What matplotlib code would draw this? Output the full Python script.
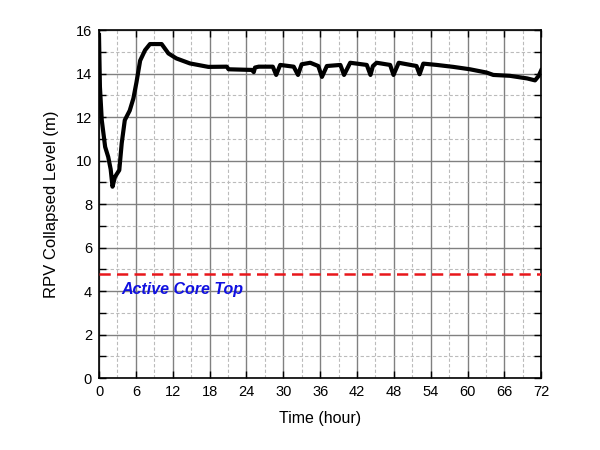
import matplotlib
matplotlib.use("Agg")
import matplotlib.pyplot as plt
from matplotlib.ticker import MultipleLocator

plt.rcParams['font.family'] = ['Liberation Sans', 'DejaVu Sans']

# Data
time_h = [0.0, 0.15, 0.45, 1.0, 1.5, 1.9, 2.2, 2.6, 3.3, 3.7, 4.2, 5.0, 5.6, 6.1,
          6.7, 7.5, 8.3, 10.2, 11.3, 12.6, 14.8, 17.8, 20.8, 21.1, 24.9, 25.2,
          25.4, 26.0, 28.3, 28.85, 29.5, 31.7, 32.4, 33.0, 34.4, 35.7, 36.3,
          37.1, 39.3, 39.9, 40.9, 43.6, 44.2, 44.6, 45.2, 47.4, 47.95, 48.8,
          51.7, 52.2, 52.8, 55.0, 57.7, 60.4, 63.1, 64.2, 66.9, 69.7, 71.0,
          71.6, 72.0]
level_m = [15.77, 13.4, 11.86, 10.63, 10.17, 9.6, 8.8, 9.25, 9.56, 10.8, 11.86,
           12.3, 12.86, 13.6, 14.6, 15.08, 15.36, 15.36, 14.93, 14.7, 14.47,
           14.31, 14.32, 14.2, 14.17, 14.07, 14.28, 14.32, 14.32, 13.94, 14.4,
           14.32, 13.94, 14.43, 14.5, 14.35, 13.85, 14.35, 14.4, 13.94, 14.5,
           14.4, 13.94, 14.35, 14.5, 14.4, 13.94, 14.5, 14.35, 13.97, 14.46,
           14.4, 14.31, 14.2, 14.05, 13.94, 13.9, 13.78, 13.69, 13.9, 14.15]

core_top = 4.8
core_label = "Active Core Top"
x_ticks = list(range(0, 73, 6))
y_ticks = list(range(0, 17, 2))

fig = plt.figure(figsize=(6, 4.5), dpi=100)
ax = fig.add_axes([0.165, 0.16, 0.737, 0.773])

ax.plot(time_h, level_m, color='black', lw=3.0, solid_joinstyle='round', zorder=3)
ax.axhline(core_top, color='#e8161b', lw=1.8, ls=(0, (4.5, 2.5)), zorder=3)
ax.text(3.6, 4.05, core_label, color='#1010e0', fontsize=11.5,
        fontweight='bold', fontstyle='italic', va='center', ha='left', zorder=4)

ax.set_xlim(0, 72)
ax.set_ylim(0, 16)
ax.set_xticks(x_ticks)
ax.set_yticks(y_ticks)
ax.xaxis.set_minor_locator(MultipleLocator(3))
ax.yaxis.set_minor_locator(MultipleLocator(1))

ax.grid(which='major', color='#808080', lw=1.0, ls='-', zorder=0)
ax.grid(which='minor', color='#bbbbbb', lw=0.8, ls=(0, (3, 2)), zorder=0)
ax.set_axisbelow(True)

ax.tick_params(which='major', direction='in', length=5, width=1, top=True, right=True,
               labelsize=10.5, pad=5, colors='black')
ax.tick_params(axis='y', which='minor', direction='in', length=5, width=1, right=True)
ax.tick_params(axis='x', which='minor', length=0)

for s in ax.spines.values():
    s.set_linewidth(1.2)
    s.set_color('black')

ax.set_xlabel('Time (hour)', fontsize=11.5, labelpad=9)
ax.set_ylabel('RPV Collapsed Level (m)', fontsize=12, labelpad=12)

fig.savefig('out.png', dpi=100)
